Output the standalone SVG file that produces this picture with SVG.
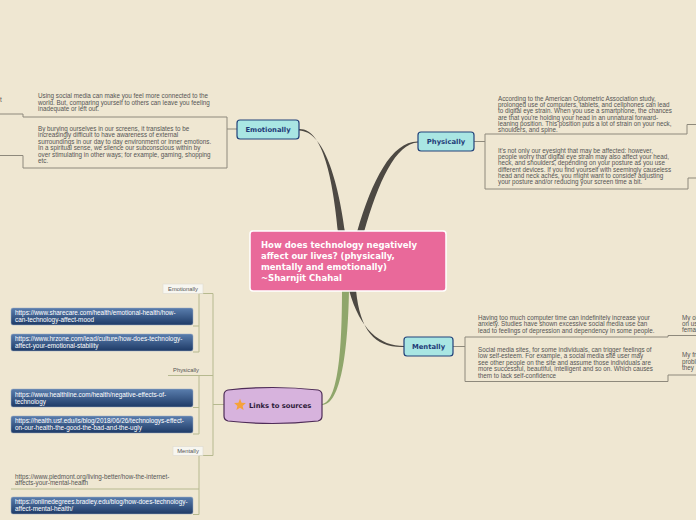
<svg xmlns="http://www.w3.org/2000/svg" width="696" height="520" viewBox="0 0 696 520">
<defs>
<linearGradient id="lg" x1="0" y1="0" x2="0" y2="1">
<stop offset="0" stop-color="#5a7eae"/>
<stop offset="1" stop-color="#1e3a66"/>
</linearGradient>
<style>
.t{font-family:"Liberation Sans",Arial,sans-serif;font-size:6.3px;fill:#555}
.lt{font-family:"Liberation Sans",Arial,sans-serif;font-size:6.4px;fill:#fff}
.br{fill:none;stroke:#8e897c;stroke-width:1}
.lk{fill:none;stroke:#b6b98f;stroke-width:1}
.nd{fill:#a9e6e3;stroke:#22427a;stroke-width:1.2}
.nt{font-family:"DejaVu Sans",Verdana,sans-serif;font-weight:bold;font-size:6.8px;fill:#1f3c78;text-anchor:middle}
.ct{font-family:"DejaVu Sans",Verdana,sans-serif;font-weight:bold;font-size:8.5px;fill:#fff}
.lb{fill:url(#lg);stroke:#9aaac0;stroke-width:0.5}
.lab{fill:#f7f6f0;stroke:#dedbd0;stroke-width:0.6}
.ll{font-family:"Liberation Sans",Arial,sans-serif;font-size:5.8px;fill:#555;text-anchor:middle}
</style>
</defs>
<rect width="696" height="520" fill="#efe7d2"/>

<g id="connectors">
<path d="M299,129 C323,128 333,180 338,232 L345,232 C338,180 324,131 299,130.5 Z" fill="#4d4943"/>
<path d="M418,141.5 C392,141 372,180 357,232 L364,232 C378,182 396,143 418,142.5 Z" fill="#4d4943"/>
<path d="M349,290 C360,330 380,346 404,346 L404,347 C376,348 360,332 356,290 Z" fill="#4d4943"/>
<path d="M342,290 C342,350 338,402 322,404 L322,405 C341,405 348,350 349,290 Z" fill="#8fa66b"/>
<path class="br" d="M0,114 H23 V117 H227 V168 H23 V155.5 H0 M227,129 H237"/>
<path class="br" d="M474,141.5 H485 M485,134 V189 M485,134 H687 V124.5 H696 M485,189 H688 V178 H696"/>
<path class="br" d="M453,346.5 H465 M465,337 V381.5 M465,337 H668 V335.5 H696 M465,381.5 H668 V375 H696"/>
<path class="lk" d="M224,404.5 H213 M213,293.5 V455.5 M199,293.5 H213 M199,293.5 V352 M193,326 H199 M193,352 H199 M168,375.5 H213 M199,375.5 V434 M193,407.5 H199 M193,434 H199 M199,455.5 H213 M199,455.5 V514.5 M11,489 H199 M193,514.5 H199"/>
</g>

<g id="center">
<rect x="250" y="231" width="196" height="60" rx="3" fill="#e9699a" stroke="#fff" stroke-width="1.5"/>
<text class="ct" x="261" y="248">How does technology negatively</text>
<text class="ct" x="261" y="259">affect our lives? (physically,</text>
<text class="ct" x="261" y="270">mentally and emotionally)</text>
<text class="ct" x="261" y="281">~Sharnjit Chahal</text>
</g>

<g id="emotionally">
<rect x="237" y="120" width="62" height="19" rx="3" class="nd"/>
<text class="nt" x="268" y="132">Emotionally</text>
</g>
<g id="emo-text">
<text class="t" x="0" y="101.5">t</text>
<text class="t" x="38" y="98">Using social media can make you feel more connected to the</text>
<text class="t" x="38" y="104.5">world. But, comparing yourself to others can leave you feeling</text>
<text class="t" x="38" y="111">inadequate or left out.</text>
<text class="t" x="38" y="130.5">By burying ourselves in our screens, it translates to be</text>
<text class="t" x="38" y="137">increasingly difficult to have awareness of external</text>
<text class="t" x="38" y="143.5">surroundings in our day to day environment or inner emotions.</text>
<text class="t" x="38" y="150">In a spiritual sense, we silence our subconscious within by</text>
<text class="t" x="38" y="156.5">over stimulating in other ways; for example, gaming, shopping</text>
<text class="t" x="38" y="163">etc.</text>
</g>

<g id="physically">
<rect x="418" y="132" width="56" height="19" rx="3" class="nd"/>
<text class="nt" x="446" y="144">Physically</text>
</g>
<g id="phys-text">
<text class="t" x="498" y="101">According to the American Optometric Association study,</text>
<text class="t" x="498" y="107.2">prolonged use of computers, tablets, and cellphones can lead</text>
<text class="t" x="498" y="113.4">to digital eye strain. When you use a smartphone, the chances</text>
<text class="t" x="498" y="119.6">are that you're holding your head in an unnatural forward-</text>
<text class="t" x="498" y="125.8">leaning position. This position puts a lot of strain on your neck,</text>
<text class="t" x="498" y="132">shoulders, and spine.</text>
<text class="t" x="498" y="153">It's not only our eyesight that may be affected: however,</text>
<text class="t" x="498" y="159.2">people worry that digital eye strain may also affect your head,</text>
<text class="t" x="498" y="165.4">neck, and shoulders, depending on your posture as you use</text>
<text class="t" x="498" y="171.6">different devices. If you find yourself with seemingly causeless</text>
<text class="t" x="498" y="177.8">head and neck aches, you might want to consider adjusting</text>
<text class="t" x="498" y="184">your posture and/or reducing your screen time a bit.</text>
</g>

<g id="mentally">
<rect x="404" y="337" width="49" height="19" rx="3" class="nd"/>
<text class="nt" x="428.5" y="349">Mentally</text>
</g>
<g id="ment-text">
<text class="t" x="478" y="319.5">Having too much computer time can indefinitely increase your</text>
<text class="t" x="478" y="326">anxiety. Studies have shown excessive social media use can</text>
<text class="t" x="478" y="332.5">lead to feelings of depression and dependency in some people.</text>
<text class="t" x="478" y="351.5">Social media sites, for some individuals, can trigger feelings of</text>
<text class="t" x="478" y="358">low self-esteem. For example, a social media site user may</text>
<text class="t" x="478" y="364.5">see other people on the site and assume those individuals are</text>
<text class="t" x="478" y="371">more successful, beautiful, intelligent and so on. Which causes</text>
<text class="t" x="478" y="377.5">them to lack self-confidence</text>
<text class="t" x="682" y="319.5">My ol</text>
<text class="t" x="682" y="326">on us</text>
<text class="t" x="682" y="332">femal</text>
<text class="t" x="682" y="357">My fr</text>
<text class="t" x="682" y="363.5">probl</text>
<text class="t" x="682" y="370">they</text>
</g>

<g id="links">
<path d="M228,390 Q272,385 318,390 Q322,391 322,395 L322,416 Q322,420 318,421 Q272,426 228,421 Q224,420 224,416 L224,395 Q224,391 228,390 Z" fill="#d7b3dd" stroke="#4e2c57" stroke-width="1.2"/>
<polygon points="240,398.8 241.6,402.8 245.9,403.1 242.6,405.9 243.6,410 240,407.7 236.4,410 237.4,405.9 234.1,403.1 238.4,402.8" fill="#f6a23a"/>
<text x="249" y="407.5" font-family="DejaVu Sans,Verdana,sans-serif" font-weight="bold" font-size="6.8" fill="#2c1a38">Links to sources</text>
</g>

<g id="lab-emo">
<rect x="163" y="284" width="40" height="9.5" class="lab"/>
<text class="ll" x="183" y="291">Emotionally</text>
</g>
<g id="lab-phys">
<text class="ll" x="186" y="372">Physically</text>
</g>
<g id="lab-ment">
<rect x="173" y="446.5" width="30" height="9" class="lab"/>
<text class="ll" x="188" y="453">Mentally</text>
</g>

<g id="link1">
<rect x="11" y="308" width="182" height="17" rx="2" class="lb"/>
<text class="lt" x="15" y="314.5">https://www.sharecare.com/health/emotional-health/how-</text>
<text class="lt" x="15" y="321.5">can-technology-affect-mood</text>
</g>
<g id="link2">
<rect x="11" y="334" width="182" height="17" rx="2" class="lb"/>
<text class="lt" x="15" y="340.5">https://www.hrzone.com/lead/culture/how-does-technology-</text>
<text class="lt" x="15" y="347.5">affect-your-emotional-stability</text>
</g>
<g id="link3">
<rect x="11" y="389" width="182" height="18" rx="2" class="lb"/>
<text class="lt" x="15" y="396.5">https://www.healthline.com/health/negative-effects-of-</text>
<text class="lt" x="15" y="403.5">technology</text>
</g>
<g id="link4">
<rect x="11" y="416" width="182" height="17" rx="2" class="lb"/>
<text class="lt" x="15" y="422.5">https://health.usf.edu/is/blog/2018/06/26/technologys-effect-</text>
<text class="lt" x="15" y="429.5">on-our-health-the-good-the-bad-and-the-ugly</text>
</g>
<g id="link5">
<text class="t" x="15" y="478.5">https://www.piedmont.org/living-better/how-the-internet-</text>
<text class="t" x="15" y="485">affects-your-mental-health</text>
</g>
<g id="link6">
<rect x="11" y="497" width="182" height="17" rx="2" class="lb"/>
<text class="lt" x="15" y="503.5">https://onlinedegrees.bradley.edu/blog/how-does-technology-</text>
<text class="lt" x="15" y="510.5">affect-mental-health/</text>
</g>
</svg>
